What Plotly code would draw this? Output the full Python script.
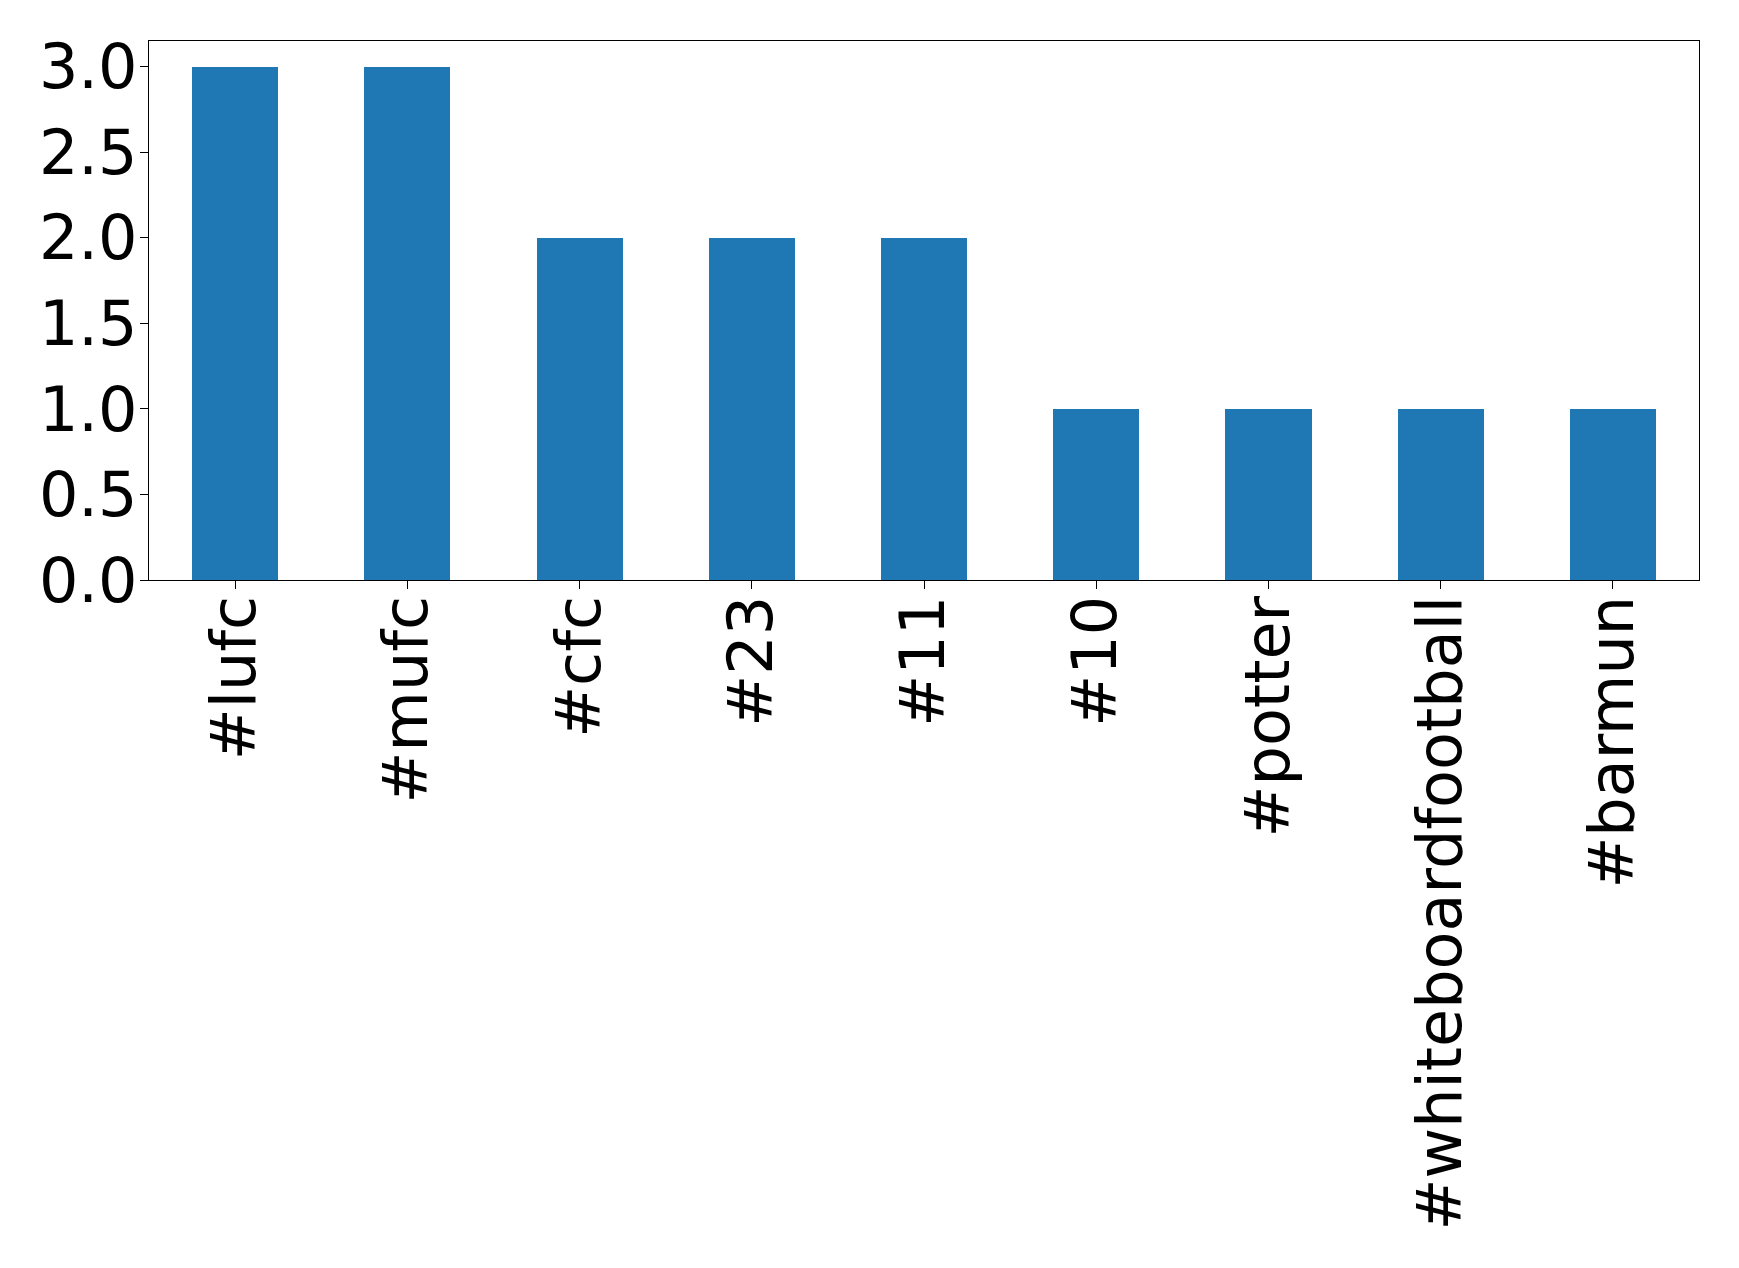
import plotly.graph_objects as go

hashtags = ["#lufc", "#mufc", "#cfc", "#23", "#11", "#10", "#potter", "#whiteboardfootball", "#barmun"]
counts = [3, 3, 2, 2, 2, 1, 1, 1, 1]
y_ticks = [0.0, 0.5, 1.0, 1.5, 2.0, 2.5, 3.0]

fig = go.Figure(go.Bar(
    x=list(range(len(hashtags))), y=counts,
    width=0.5, marker=dict(color="#1f77b4", line=dict(width=0)),
))

font = dict(family="DejaVu Sans", size=62, color="black")
fig.update_layout(
    width=1739, height=1268,
    margin=dict(l=141, r=48, t=33, b=696, autoexpand=False),
    paper_bgcolor="white", plot_bgcolor="white",
    showlegend=False, bargap=0,
)
fig.update_xaxes(
    range=[-0.5, len(hashtags) - 0.5],
    tickmode="array", tickvals=list(range(len(hashtags))), ticktext=hashtags,
    tickangle=-90, tickfont=font, ticklabelstandoff=-18,
    ticks="outside", ticklen=8, tickwidth=1.2, tickcolor="black",
    showline=True, linecolor="black", linewidth=1.2, mirror=True,
    showgrid=False, zeroline=False,
)
fig.update_yaxes(
    range=[0, 3.15],
    tickmode="array", tickvals=y_ticks, ticktext=[f"{v:.1f}" for v in y_ticks],
    tickfont=font, ticklabelstandoff=-10,
    ticks="outside", ticklen=8, tickwidth=1.2, tickcolor="black",
    showline=True, linecolor="black", linewidth=1.2, mirror=True,
    showgrid=False, zeroline=False,
)

fig.write_html("out.html")
